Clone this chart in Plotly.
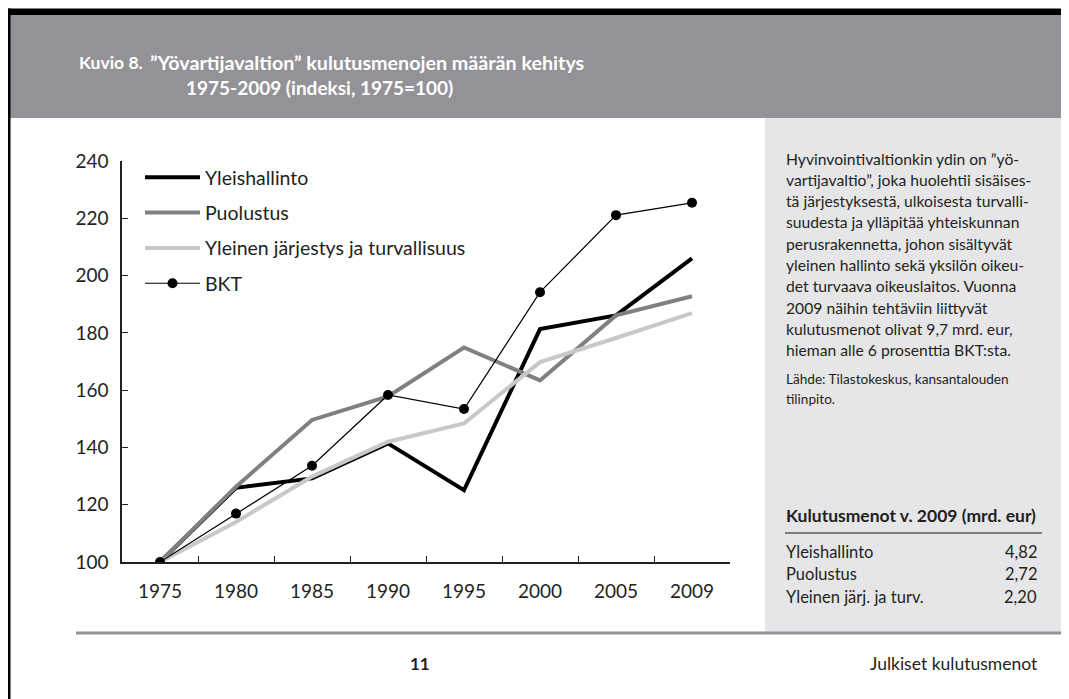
import plotly.graph_objects as go

W, H = 1069, 699

# ---- data ----
years = ["1975", "1980", "1985", "1990", "1995", "2000", "2005", "2009"]
yleishallinto = [100, 125.9, 129.2, 141.4, 125.1, 181.3, 186.1, 206.0]
puolustus = [100, 126.3, 149.6, 157.8, 174.9, 163.4, 186.1, 192.8]
jarjestys = [100, 114.0, 129.8, 142.0, 148.4, 169.8, 178.2, 186.9]
bkt = [100, 116.9, 133.6, 158.3, 153.4, 194.2, 221.1, 225.4]
y_ticks = [100, 120, 140, 160, 180, 200, 220, 240]

series_names = ["Yleishallinto", "Puolustus", "Yleinen järjestys ja turvallisuus", "BKT"]

title_label = "Kuvio 8."
title_line1 = "”Yövartijavaltion” kulutusmenojen määrän kehitys"
title_line2 = "1975-2009 (indeksi, 1975=100)"

panel_lines = [
    "Hyvinvointivaltionkin ydin on ”yö-",
    "vartijavaltio”, joka huolehtii sisäises-",
    "tä järjestyksestä, ulkoisesta turvalli-",
    "suudesta ja ylläpitää yhteiskunnan",
    "perusrakennetta, johon sisältyvät",
    "yleinen hallinto sekä yksilön oikeu-",
    "det turvaava oikeuslaitos. Vuonna",
    "2009 näihin tehtäviin liittyvät",
    "kulutusmenot olivat 9,7 mrd. eur,",
    "hieman alle 6 prosenttia BKT:sta.",
]
source_lines = ["Lähde: Tilastokeskus, kansantalouden", "tilinpito."]

table_title = "Kulutusmenot v. 2009 (mrd. eur)"
table_labels = ["Yleishallinto", "Puolustus", "Yleinen järj. ja turv."]
table_values = ["4,82", "2,72", "2,20"]

page_number = "11"
footer_text = "Julkiset kulutusmenot"

# ---- helpers (target pixel -> paper); page body offsets the figure by 8px ----
OFF = 8

def px(x):
    return (x - OFF) / W

def py(y):
    return 1 - (y - OFF) / H

FONT = "Lato"
TXT = "#231f20"

fig = go.Figure()

fig.add_trace(go.Scatter(x=years, y=yleishallinto, name=series_names[0], mode="lines",
                         line=dict(color="#000000", width=4), legendgroup="a"))
fig.add_trace(go.Scatter(x=years, y=puolustus, name=series_names[1], mode="lines",
                         line=dict(color="#808080", width=4), legendgroup="b"))
fig.add_trace(go.Scatter(x=years, y=jarjestys, name=series_names[2], mode="lines",
                         line=dict(color="#c8c8c8", width=4), legendgroup="c"))
fig.add_trace(go.Scatter(x=years, y=bkt, name=series_names[3], mode="lines+markers",
                         line=dict(color="#000000", width=1.2),
                         marker=dict(color="#000000", size=10), legendgroup="d"))

fig.update_layout(legend=dict(x=px(140), y=py(158), xanchor="left", yanchor="top",
                              bgcolor="rgba(0,0,0,0)", traceorder="grouped", tracegroupgap=7,
                              font=dict(family=FONT, size=19.5, color=TXT), itemwidth=55))

# axes
fig.update_xaxes(type="category", domain=[px(122), px(730)], range=[-0.5, 7.5],
                 tickson="boundaries", ticks="inside", ticklen=6, tickwidth=1.2, tickcolor=TXT,
                 showline=True, linecolor=TXT, linewidth=1.5, showgrid=False, zeroline=False,
                 automargin=False,
                 tickfont=dict(family=FONT, size=19, color=TXT), ticklabelstandoff=11)
fig.update_yaxes(domain=[py(562), py(161)], range=[100, 240], tickvals=y_ticks,
                 ticks="inside", ticklen=6, tickwidth=1.2, tickcolor=TXT,
                 showline=True, linecolor=TXT, linewidth=1.5, showgrid=False, zeroline=False,
                 automargin=False,
                 tickfont=dict(family=FONT, size=19, color=TXT), ticklabelstandoff=8)

shapes = [
    # header gray band
    dict(type="rect", x0=px(9), x1=px(W + 20), y0=py(118), y1=py(15), fillcolor="#939297", line_width=0),
    # top black bar
    dict(type="rect", x0=px(8), x1=px(W + 20), y0=py(15), y1=py(8.5), fillcolor="#000000", line_width=0),
    # left black border
    dict(type="rect", x0=px(8), x1=px(10.5), y0=py(H + 20), y1=py(8.5), fillcolor="#000000", line_width=0),
    # right info panel
    dict(type="rect", x0=px(765), x1=px(W + 20), y0=py(632), y1=py(118), fillcolor="#e6e6e8", line_width=0),
    # footer rule
    dict(type="line", x0=px(76), x1=px(W + 20), y0=py(633), y1=py(633), line=dict(color="#939297", width=3)),
    # table rule
    dict(type="line", x0=px(785), x1=px(1042), y0=py(533), y1=py(533), line=dict(color="#58595b", width=1.5)),
]
for s in shapes:
    s.update(xref="paper", yref="paper", layer="below")
fig.update_layout(shapes=shapes)

ann = []
def text(x, y, t, size, color=TXT, bold=False, xanchor="left"):
    ann.append(dict(x=px(x), y=py(y), xref="paper", yref="paper", text=(f"<b>{t}</b>" if bold else t),
                    showarrow=False, xanchor=xanchor, yanchor="middle",
                    font=dict(family=FONT, size=size, color=color)))

text(77, 62, title_label, 17.5, color="#ffffff", bold=True)
text(148, 62, title_line1, 19.7, color="#ffffff", bold=True)
text(184, 88, title_line2, 19, color="#ffffff", bold=True)

for i, line in enumerate(panel_lines):
    text(784, 158.5 + i * 21.3, line, 15.7)
for i, line in enumerate(source_lines):
    text(784, 378.5 + i * 20, line, 13.6)

text(784, 515, table_title, 17.5, bold=True)
for i, (lab, val) in enumerate(zip(table_labels, table_values)):
    yy = 552 + i * 22.3
    text(784, yy, lab, 16.5)
    text(1039, yy, val, 16.5, xanchor="right")

text(420, 663, page_number, 17, bold=True, xanchor="center")
text(1040, 663, footer_text, 17.5, xanchor="right")

fig.update_layout(annotations=ann, width=W, height=H,
                  margin=dict(l=0, r=0, t=0, b=0, autoexpand=False),
                  paper_bgcolor="#ffffff", plot_bgcolor="rgba(0,0,0,0)", autosize=False)

fig.write_html("out.html")
